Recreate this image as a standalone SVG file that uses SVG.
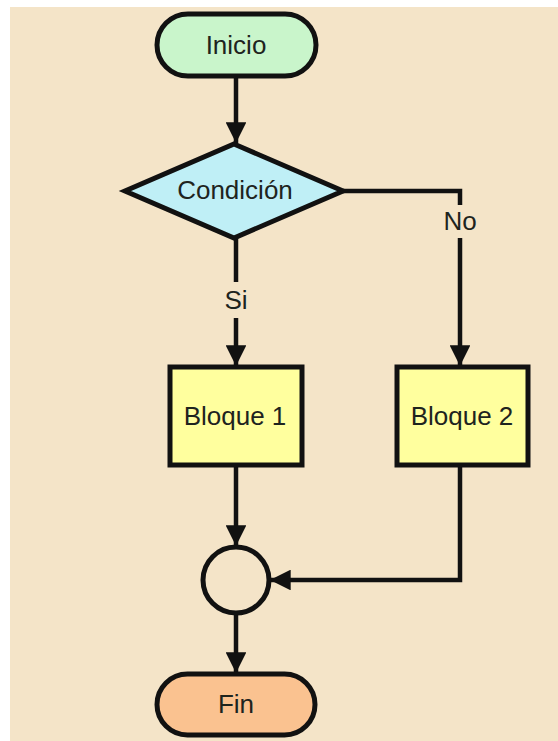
<svg xmlns="http://www.w3.org/2000/svg" width="558" height="741" viewBox="0 0 558 741">
<defs>
<style>
.n{stroke:#111;stroke-width:5}
.t{font-family:"Liberation Sans",Arial,sans-serif;font-size:26px;fill:#1e241e;text-anchor:middle;dominant-baseline:central}
.c{fill:none;stroke:#111;stroke-width:4.5}
</style>
<marker id="a" viewBox="0 0 10 10" refX="10" refY="5" markerWidth="4.6" markerHeight="4.6" markerUnits="strokeWidth" orient="auto">
<path d="M0,0L10,5L0,10z" fill="#111"/>
</marker>
</defs>
<rect width="558" height="741" fill="#fff"/>
<rect x="10" y="7" width="548" height="734" fill="#F4E4C8"/>
<g id="connectors">
<path class="c" d="M236,77V143" marker-end="url(#a)"/>
<path class="c" d="M343,191H460V205M460,238V366" marker-end="url(#a)"/>
<path class="c" d="M236,238V282M236,318V366" marker-end="url(#a)"/>
<path class="c" d="M236,466V546" marker-end="url(#a)"/>
<path class="c" d="M460,466V580H270" marker-end="url(#a)"/>
<path class="c" d="M236,613V673" marker-end="url(#a)"/>
<text class="t" x="460" y="221">No</text>
<text class="t" x="236" y="300">Si</text>
</g>
<g id="inicio">
<rect class="n" x="157" y="14" width="159" height="62" rx="31" fill="#C9F5CB"/>
<text class="t" x="236" y="45">Inicio</text>
</g>
<g id="condicion">
<polygon class="n" points="234,144 343,191 234,238 125,191" fill="#BFEFF6"/>
<text class="t" x="235" y="190">Condición</text>
</g>
<g id="bloque1">
<rect class="n" x="170" y="367" width="132" height="98" fill="#FFFF9E"/>
<text class="t" x="235" y="416">Bloque 1</text>
</g>
<g id="bloque2">
<rect class="n" x="397" y="367" width="131" height="98" fill="#FFFF9E"/>
<text class="t" x="462" y="416">Bloque 2</text>
</g>
<g id="union">
<circle class="n" cx="236" cy="580" r="33" fill="none"/>
</g>
<g id="fin">
<rect class="n" x="157" y="674" width="158" height="61" rx="30.5" fill="#FAC290"/>
<text class="t" x="236" y="704">Fin</text>
</g>
</svg>
